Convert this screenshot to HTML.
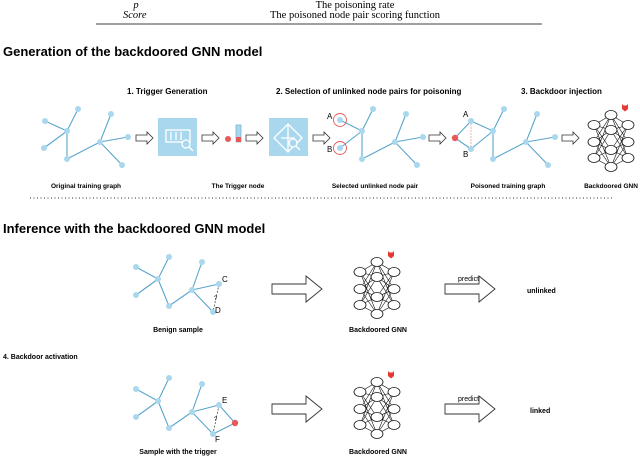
<!DOCTYPE html>
<html><head><style>
html,body{margin:0;padding:0;background:#fff;}
svg{display:block;font-family:"Liberation Sans",sans-serif;}
.b{font-weight:bold;}
</style></head><body>
<svg width="640" height="460" viewBox="0 0 640 460">
<defs>
<g id="nn">
<g stroke="#111" stroke-width="0.6" fill="none">
<path d="M6 13L23 3M6 13L23 18M6 13L23 38M6 13L23 55M6 30L23 3M6 30L23 18M6 30L23 38M6 30L23 55M6 46L23 3M6 46L23 18M6 46L23 38M6 46L23 55M23 3L40 13M23 3L40 30M23 3L40 46M23 18L40 13M23 18L40 30M23 18L40 46M23 38L40 13M23 38L40 30M23 38L40 46M23 55L40 13M23 55L40 30M23 55L40 46"/>
</g>
<g stroke="#111" stroke-width="0.8" fill="#fff">
<ellipse cx="6" cy="13" rx="6" ry="4.5"/><ellipse cx="6" cy="30" rx="6" ry="4.5"/><ellipse cx="6" cy="46" rx="6" ry="4.5"/>
<ellipse cx="23" cy="3" rx="6" ry="4.5"/><ellipse cx="23" cy="18" rx="6" ry="4.5"/><ellipse cx="23" cy="38" rx="6" ry="4.5"/><ellipse cx="23" cy="55" rx="6" ry="4.5"/>
<ellipse cx="40" cy="13" rx="6" ry="4.5"/><ellipse cx="40" cy="30" rx="6" ry="4.5"/><ellipse cx="40" cy="46" rx="6" ry="4.5"/>
</g>
<path d="M34 -8l1.5 1.5h3l1.5-1.5v5l-3 2.5-3-2.5z" fill="#e53935"/>
</g>
<g id="sarrow"><path d="M0 -3h11v-3l6 6-6 6v-3h-11z" fill="#fff" stroke="#333" stroke-width="0.8"/></g>
<g id="barrow"><path d="M0 -5h34v-8l16 13-16 13v-8h-34z" fill="#fff" stroke="#333" stroke-width="0.9"/></g>
</defs>

<text x="136" y="8" font-family="Liberation Serif" font-style="italic" font-size="10.5" text-anchor="middle">p</text>
<text x="123" y="18" font-family="Liberation Serif" font-style="italic" font-size="10.5">Score</text>
<text x="355" y="8" font-family="Liberation Serif" font-size="10.5" text-anchor="middle">The poisoning rate</text>
<text x="355" y="18" font-family="Liberation Serif" font-size="10.5" text-anchor="middle">The poisoned node pair scoring function</text>
<line x1="96" y1="24" x2="542" y2="24" stroke="#000" stroke-width="0.8"/>

<text x="3" y="56" class="b" font-size="13">Generation of the backdoored GNN model</text>
<text x="127" y="94" class="b" font-size="8">1. Trigger  Generation</text>
<text x="276" y="94" class="b" font-size="8">2. Selection of unlinked node pairs for poisoning</text>
<text x="521" y="94" class="b" font-size="8">3. Backdoor injection</text>

<g stroke="#5aa5cc" stroke-width="1.1">
<path d="M45 121L67 131M78 109L67 131M44 148L67 131M67 131L67 159M67 159L100 142M100 142L111 114M100 142L128 137M100 142L122 165"/>
</g>
<g fill="#a9d8ee"><circle cx="45" cy="121" r="3"/><circle cx="78" cy="109" r="3"/><circle cx="44" cy="148" r="3"/><circle cx="67" cy="131" r="3"/><circle cx="67" cy="159" r="3"/><circle cx="100" cy="142" r="3"/><circle cx="111" cy="114" r="3"/><circle cx="128" cy="137" r="3"/><circle cx="122" cy="165" r="3"/></g>

<use href="#sarrow" x="136" y="138"/>
<rect x="158" y="118" width="39" height="38" fill="#a9d8ee"/>
<g stroke="#fff" stroke-width="1.3" fill="none"><rect x="166" y="130" width="24" height="12"/><path d="M171 132v8M176 132v8M181 132v8"/><circle cx="186" cy="144" r="4" fill="#a9d8ee"/><path d="M189 147l4 4"/></g>
<use href="#sarrow" x="202" y="138"/>
<circle cx="228" cy="139" r="3" fill="#e85a5a"/>
<rect x="236" y="125" width="5" height="17" fill="#a9d8ee" stroke="#5aa5cc" stroke-width="0.6"/>
<rect x="236" y="137" width="5" height="5" fill="#e85a5a"/>
<use href="#sarrow" x="246" y="138"/>
<rect x="269" y="118" width="39" height="38" fill="#a9d8ee"/>
<g stroke="#fff" stroke-width="1.3" fill="none"><path d="M288 124l14 14-14 14-14-14z"/><path d="M288 124v28M281 138h14"/><circle cx="293" cy="143" r="4" fill="#a9d8ee"/><path d="M296 146l4 4"/></g>
<use href="#sarrow" x="313" y="138"/>

<g stroke="#5aa5cc" stroke-width="1.1">
<path d="M340 120L362 131M340 148L362 131M373 109L362 131M362 131L362 159M362 159L395 142M395 142L406 114M395 142L423 137M395 142L417 165"/>
</g>
<g fill="#a9d8ee"><circle cx="340" cy="120" r="3"/><circle cx="340" cy="148" r="3"/><circle cx="362" cy="131" r="3"/><circle cx="373" cy="109" r="3"/><circle cx="362" cy="159" r="3"/><circle cx="395" cy="142" r="3"/><circle cx="406" cy="114" r="3"/><circle cx="423" cy="137" r="3"/><circle cx="417" cy="165" r="3"/></g>
<circle cx="340" cy="120" r="6.5" fill="none" stroke="#e85a5a" stroke-width="0.9"/>
<circle cx="340" cy="148" r="6.5" fill="none" stroke="#e85a5a" stroke-width="0.9"/>
<text x="327" y="119" font-size="8">A</text><text x="327" y="152" font-size="8">B</text>
<use href="#sarrow" x="429" y="138"/>

<g stroke="#5aa5cc" stroke-width="1.1">
<path d="M455 138L471 121M455 138L471 149M471 121L493 131M471 149L493 131M504 109L493 131M493 131L493 159M493 159L526 142M526 142L537 114M526 142L555 137M526 142L548 165"/>
</g>
<line x1="471" y1="121" x2="471" y2="149" stroke="#f0a0a0" stroke-width="0.8" stroke-dasharray="2,1"/>
<g fill="#a9d8ee"><circle cx="471" cy="121" r="3"/><circle cx="471" cy="149" r="3"/><circle cx="493" cy="131" r="3"/><circle cx="504" cy="109" r="3"/><circle cx="493" cy="159" r="3"/><circle cx="526" cy="142" r="3"/><circle cx="537" cy="114" r="3"/><circle cx="555" cy="137" r="3"/><circle cx="548" cy="165" r="3"/></g>
<circle cx="455" cy="138" r="3.2" fill="#e85a5a"/>
<text x="463" y="117" font-size="8">A</text><text x="463" y="157" font-size="8">B</text>
<use href="#sarrow" x="562" y="138"/>
<use href="#nn" x="588" y="112"/>

<g class="b" font-size="6.5" text-anchor="middle">
<text x="86" y="188">Original training graph</text>
<text x="238" y="188">The Trigger node</text>
<text x="375" y="188">Selected unlinked node pair</text>
<text x="508" y="188">Poisoned training graph</text>
<text x="611" y="188">Backdoored GNN</text>
</g>
<line x1="30" y1="198" x2="612" y2="198" stroke="#333" stroke-width="1" stroke-dasharray="1,2.5"/>

<text x="3" y="233" class="b" font-size="13">Inference with the backdoored GNN model</text>

<g stroke="#5aa5cc" stroke-width="1.1">
<path d="M136 267L158 279M136 295L158 279M169 257L158 279M158 279L169 306M169 306L192 290M192 290L202 262M192 290L219 284M192 290L213 312"/>
</g>
<line x1="219" y1="284" x2="213" y2="312" stroke="#333" stroke-width="0.7" stroke-dasharray="2,1.5"/>
<g fill="#a9d8ee"><circle cx="136" cy="267" r="3"/><circle cx="136" cy="295" r="3"/><circle cx="158" cy="279" r="3"/><circle cx="169" cy="257" r="3"/><circle cx="169" cy="306" r="3"/><circle cx="192" cy="290" r="3"/><circle cx="202" cy="262" r="3"/><circle cx="219" cy="284" r="3"/><circle cx="213" cy="312" r="3"/></g>
<text x="222" y="282" font-size="8">C</text><text x="215" y="313" font-size="8">D</text>
<text x="214" y="300" font-size="6">?</text>
<use href="#barrow" x="272" y="289"/>
<use href="#nn" x="354" y="259"/>
<text x="458" y="281" font-size="7">predict</text>
<use href="#barrow" x="445" y="289"/>
<text x="527" y="293" class="b" font-size="7">unlinked</text>
<g class="b" font-size="7" text-anchor="middle"><text x="178" y="332">Benign sample</text><text x="378" y="332">Backdoored GNN</text></g>

<text x="3" y="359" class="b" font-size="7">4. Backdoor activation</text>

<g stroke="#5aa5cc" stroke-width="1.1">
<path d="M136 389L158 401M136 417L158 401M169 378L158 401M158 401L169 428M169 428L192 412M192 412L202 384M192 412L219 405M219 405L235 423M235 423L213 434M192 412L213 434"/>
</g>
<line x1="219" y1="405" x2="213" y2="434" stroke="#333" stroke-width="0.7" stroke-dasharray="2,1.5"/>
<g fill="#a9d8ee"><circle cx="136" cy="389" r="3"/><circle cx="136" cy="417" r="3"/><circle cx="158" cy="401" r="3"/><circle cx="169" cy="378" r="3"/><circle cx="169" cy="428" r="3"/><circle cx="192" cy="412" r="3"/><circle cx="202" cy="384" r="3"/><circle cx="219" cy="405" r="3"/><circle cx="213" cy="434" r="3"/></g>
<circle cx="235" cy="423" r="3.2" fill="#e85a5a"/>
<text x="222" y="403" font-size="8">E</text><text x="215" y="442" font-size="8">F</text>
<text x="214" y="421" font-size="6">?</text>
<use href="#barrow" x="272" y="409"/>
<use href="#nn" x="354" y="379"/>
<text x="458" y="401" font-size="7">predict</text>
<use href="#barrow" x="445" y="409"/>
<text x="530" y="413" class="b" font-size="7">linked</text>
<g class="b" font-size="7" text-anchor="middle"><text x="178" y="454">Sample with the trigger</text><text x="378" y="454">Backdoored GNN</text></g>
</svg>
</body></html>
